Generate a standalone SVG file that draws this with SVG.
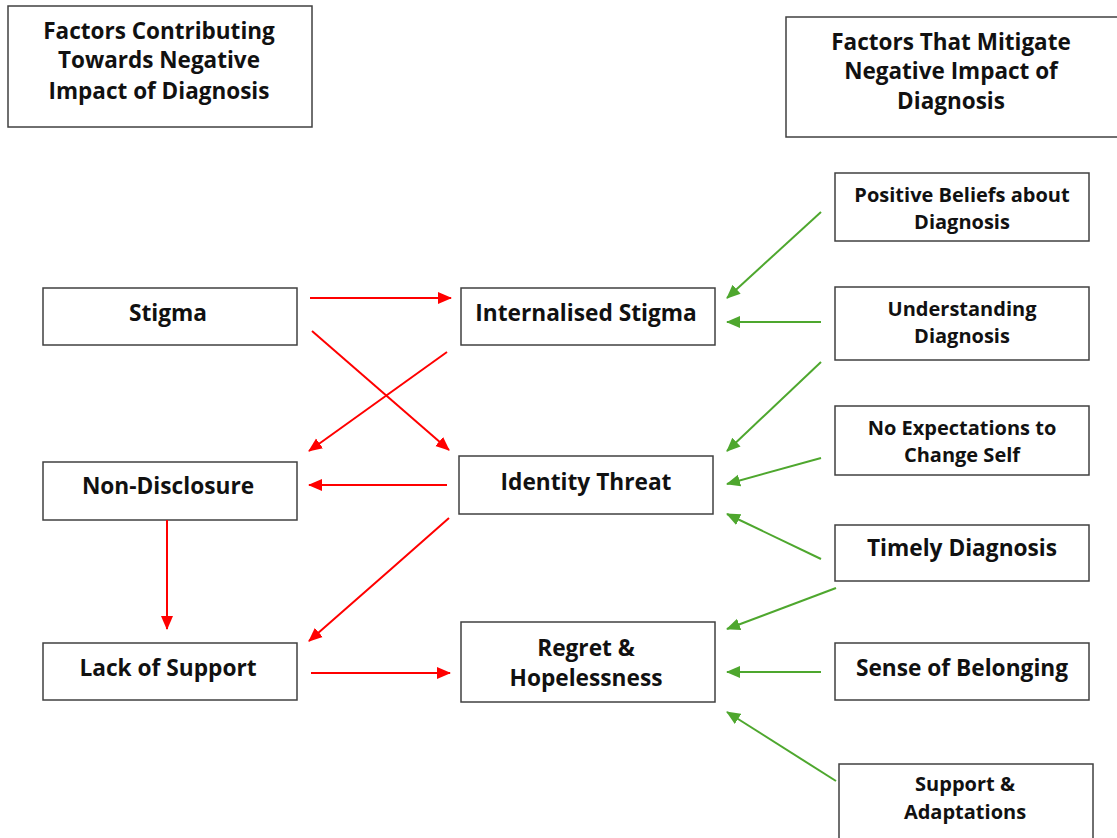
<svg xmlns="http://www.w3.org/2000/svg" width="1117" height="838" viewBox="0 0 1117 838">
<style>
.box{fill:#fff;stroke:#404040;stroke-width:1.5}
text{font-family:"Open Sans","Liberation Sans",sans-serif;font-weight:700;fill:#111;text-anchor:middle}
.t{font-size:22.5px}
.m{font-size:22.7px}
.s{font-size:20px}
.r{stroke:#ff0000;stroke-width:2;fill:none;marker-end:url(#ar)}
.g{stroke:#4ea72e;stroke-width:2;fill:none;marker-end:url(#ag)}
</style>
<defs>
<marker id="ar" markerUnits="userSpaceOnUse" markerWidth="14" markerHeight="14" refX="13" refY="7" orient="auto"><path d="M0,1 L14,7 L0,13 Z" fill="#ff0000"/></marker>
<marker id="ag" markerUnits="userSpaceOnUse" markerWidth="14" markerHeight="14" refX="13" refY="7" orient="auto"><path d="M0,1 L14,7 L0,13 Z" fill="#4ea72e"/></marker>
</defs>
<rect width="1117" height="838" fill="#fff"/>
<g id="title-left"><rect class="box" x="8" y="6" width="304" height="121"/>
<text class="t" x="159" y="39">Factors Contributing</text><text class="t" x="159" y="68">Towards Negative</text><text class="t" x="159" y="99">Impact of Diagnosis</text></g>
<g id="title-right"><rect class="box" x="786" y="17" width="340" height="120"/>
<text class="t" x="951" y="50">Factors That Mitigate</text><text class="t" x="951" y="79">Negative Impact of</text><text class="t" x="951" y="109">Diagnosis</text></g>
<g id="stigma"><rect class="box" x="43" y="288" width="254" height="57"/><text class="m" x="168" y="321">Stigma</text></g>
<g id="internalised"><rect class="box" x="461" y="288" width="254" height="57"/><text class="m" x="586" y="321">Internalised Stigma</text></g>
<g id="nondisclosure"><rect class="box" x="43" y="462" width="254" height="58"/><text class="m" x="168" y="494">Non-Disclosure</text></g>
<g id="identity"><rect class="box" x="459" y="456" width="254" height="58"/><text class="m" x="586" y="490">Identity Threat</text></g>
<g id="lack"><rect class="box" x="43" y="643" width="254" height="57"/><text class="m" x="168" y="676">Lack of Support</text></g>
<g id="regret"><rect class="box" x="461" y="622" width="254" height="80"/><text class="m" x="586" y="656">Regret &amp;</text><text class="m" x="586" y="686">Hopelessness</text></g>
<g id="positive"><rect class="box" x="835" y="173" width="254" height="68"/><text class="s" x="962" y="202">Positive Beliefs about</text><text class="s" x="962" y="229">Diagnosis</text></g>
<g id="understanding"><rect class="box" x="835" y="287" width="254" height="73"/><text class="s" x="962" y="316">Understanding</text><text class="s" x="962" y="343">Diagnosis</text></g>
<g id="noexp"><rect class="box" x="835" y="406" width="254" height="69"/><text class="s" x="962" y="435">No Expectations to</text><text class="s" x="962" y="462">Change Self</text></g>
<g id="timely"><rect class="box" x="835" y="525" width="254" height="56"/><text class="m" x="962" y="556">Timely Diagnosis</text></g>
<g id="belonging"><rect class="box" x="835" y="643" width="254" height="57"/><text class="m" x="962" y="676">Sense of Belonging</text></g>
<g id="support"><rect class="box" x="839" y="764" width="254" height="80"/><text class="s" x="965" y="791">Support &amp;</text><text class="s" x="965" y="819">Adaptations</text></g>
<g id="connectors">
<line class="r" x1="310" y1="298" x2="451" y2="298"/>
<line class="r" x1="312" y1="331" x2="449" y2="450"/>
<line class="r" x1="447" y1="352" x2="309" y2="451"/>
<line class="r" x1="447" y1="485" x2="309" y2="485"/>
<path class="r" d="M449,518 L390,570 L309,641"/>
<line class="r" x1="167" y1="520" x2="167" y2="629"/>
<line class="r" x1="311" y1="673" x2="450" y2="673"/>
<line class="g" x1="821" y1="212" x2="727" y2="298"/>
<line class="g" x1="821" y1="322" x2="727" y2="322"/>
<line class="g" x1="821" y1="362" x2="727" y2="451"/>
<line class="g" x1="821" y1="458" x2="727" y2="484"/>
<line class="g" x1="821" y1="559" x2="727" y2="514"/>
<line class="g" x1="836" y1="588" x2="727" y2="629"/>
<line class="g" x1="821" y1="672" x2="727" y2="672"/>
<line class="g" x1="836" y1="781" x2="727" y2="712"/>
</g>
</svg>
